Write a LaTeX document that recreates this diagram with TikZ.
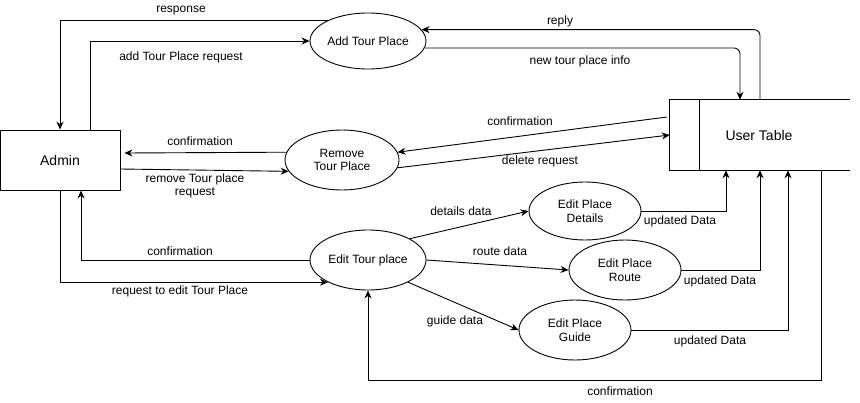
\documentclass[tikz,border=0pt]{standalone}
\usepackage{fontspec}
\setmainfont{Liberation Sans}
\usetikzlibrary{shapes.geometric,arrows.meta}
\begin{document}
\begin{tikzpicture}[x=1pt,y=-1pt,
  every node/.style={font=\fontsize{12}{13.5}\selectfont, inner sep=0pt},
  proc/.style={ellipse, draw, line width=0.9pt, align=center},
  lbl/.style={align=center},
  arr/.style={draw, line width=0.9pt, -{Stealth[length=8pt,width=7pt]}},
  ln/.style={draw, line width=0.9pt}]
\useasboundingbox (0,0) rectangle (860,402);

% entities
\node[draw, line width=0.9pt, minimum width=120pt, minimum height=60pt,
      font=\fontsize{14}{16}\selectfont] (admin) at (60,160) {Admin};
\node[minimum width=180pt, minimum height=70pt] (ut) at (760,135) {};
\node[font=\fontsize{14}{16}\selectfont] (utlbl) at (759,135) {User Table};
\draw[ln] (ut.north east) -- (ut.north west) -- (ut.south west) -- (ut.south east);
\draw[ln] ([xshift=30pt]ut.north west) -- ([xshift=30pt]ut.south west);

% processes
\node[proc, minimum width=116pt, minimum height=56pt] (add) at (368,41) {Add Tour Place};
\node[proc, minimum width=114pt, minimum height=60pt] (rem) at (342,160) {Remove\\Tour Place};
\node[proc, minimum width=116pt, minimum height=60pt] (edit) at (368,260) {Edit Tour place};
\node[proc, minimum width=112pt, minimum height=58pt] (det) at (585,211) {Edit Place\\Details};
\node[proc, minimum width=112pt, minimum height=60pt] (route) at (625,270) {Edit Place\\Route};
\node[proc, minimum width=112pt, minimum height=60pt] (guide) at (575,330) {Edit Place\\Guide};

% connectors
\draw[arr] (add.153) -| (admin.north);
\draw[arr] ([xshift=30pt]admin.north) |- (add.west);
\draw[arr, rounded corners=6pt] (ut.north) |- (add.12);
\draw[arr, rounded corners=6pt] (add.-7) -| ([xshift=-20pt]ut.north);
\draw[arr] ([yshift=18pt,xshift=-3pt]ut.west) -- (rem.8);
\draw[arr] (rem.-8) -- (ut.west);
\draw[arr] (rem.172) -- ([yshift=7pt,xshift=4pt]admin.east);
\draw[arr] ([yshift=-9pt]admin.east) -- (rem.192);
\draw[arr] (edit.west) -| ([xshift=21pt]admin.south);
\draw[arr] (admin.south) |- (edit.209);
\draw[arr] (edit.27) -- (det.west);
\draw[arr] (edit.east) -- (route.west);
\draw[arr] (edit.-29) -- (guide.west);
\draw[arr] (det.east) -| ([xshift=-34pt]ut.south);
\draw[arr] (route.east) -| (ut.south);
\draw[arr] (guide.east) -| ([xshift=28pt]ut.south);
\draw[arr] ([xshift=61pt]ut.south) |- ([yshift=-90pt]edit.south) -- (edit.south);

% labels
\node[lbl] (l1) at (181,11) {response};
\node[lbl] (l2) at (181,57) {add Tour Place request};
\node[lbl] (l3) at (560,21) {reply};
\node[lbl] (l4) at (580,61) {new tour place info};
\node[lbl] (l5) at (520,121) {confirmation};
\node[lbl] (l6) at (540,161) {delete request};
\node[lbl] (l7) at (200,141) {confirmation};
\node[lbl] (l8) at (195,186) {remove Tour place\\request};
\node[lbl] (l9) at (180,251) {confirmation};
\node[lbl] (l10) at (180,291) {request to edit Tour Place};
\node[lbl] (l11) at (461,211) {details data};
\node[lbl] (l12) at (500,251) {route data};
\node[lbl] (l13) at (455,321) {guide data};
\node[lbl] (l14) at (680,221) {updated Data};
\node[lbl] (l15) at (720,281) {updated Data};
\node[lbl] (l16) at (710,341) {updated Data};
\node[lbl] (l17) at (620,391) {confirmation};
\end{tikzpicture}
\end{document}
